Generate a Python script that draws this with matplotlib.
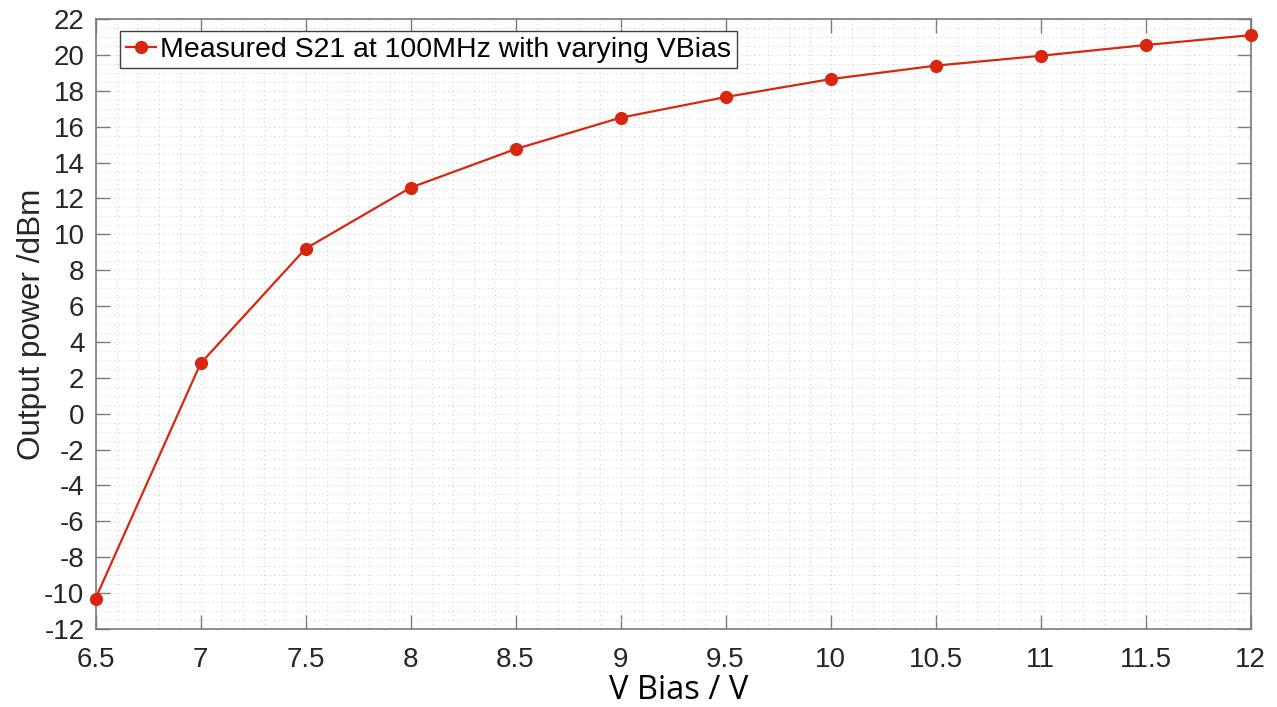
import matplotlib
matplotlib.use("Agg")
import matplotlib.pyplot as plt
from matplotlib.ticker import MultipleLocator

# Measured output power versus bias voltage
v_bias = [6.5, 7.0, 7.5, 8.0, 8.5, 9.0, 9.5, 10.0, 10.5, 11.0, 11.5, 12.0]
p_out = [-10.3, 2.8, 9.2, 12.6, 14.75, 16.5, 17.65, 18.65, 19.4, 19.95, 20.55, 21.1]
x_ticks = [6.5, 7, 7.5, 8, 8.5, 9, 9.5, 10, 10.5, 11, 11.5, 12]
x_tick_labels = ["6.5", "7", "7.5", "8", "8.5", "9", "9.5", "10", "10.5", "11", "11.5", "12"]
y_ticks = list(range(-12, 23, 2))
y_tick_labels = [str(v) for v in y_ticks]

plt.rcParams["font.family"] = ["Liberation Sans", "DejaVu Sans"]
plt.rcParams["axes.unicode_minus"] = False
text_color = "#262626"
axis_color = "#7a7a7a"

fig = plt.figure(figsize=(12.77, 7.07), dpi=100)
ax = fig.add_axes([0.0748, 0.1103, 0.9045, 0.8628])

ax.plot(v_bias, p_out, color="#D92611", linewidth=1.6, marker="o",
        markersize=8.5, label="Measured S21 at 100MHz with varying VBias",
        clip_on=False, zorder=3)

ax.set_xlim(6.5, 12)
ax.set_ylim(-12, 22)
ax.set_xticks(x_ticks)
ax.set_xticklabels(x_tick_labels)
ax.set_yticks(y_ticks)
ax.set_yticklabels(y_tick_labels)
ax.xaxis.set_minor_locator(MultipleLocator(0.1))
ax.yaxis.set_minor_locator(MultipleLocator(0.5))

ax.grid(which="both", linestyle=(0, (1, 3)), color="#d2d2d2", linewidth=0.8)
ax.set_axisbelow(True)

ax.tick_params(which="major", direction="in", length=10, width=1,
               color=axis_color, top=True, right=True,
               labelsize=20, labelcolor=text_color)
ax.tick_params(axis="y", which="major", pad=8)
ax.tick_params(axis="x", which="major", pad=13)
ax.tick_params(which="minor", length=0, top=True, right=True)
for side in ax.spines.values():
    side.set_color(axis_color)
    side.set_linewidth(1.2)

ax.set_xlabel("V Bias / V", fontsize=23.5, color="black",
              family=["Open Sans", "DejaVu Sans"])
ax.xaxis.set_label_coords(0.5048, -0.073)
ax.set_ylabel("Output power /dBm", fontsize=22.7, color=text_color)
ax.yaxis.set_label_coords(-0.042, 0.5)

leg = ax.legend(loc="upper left", bbox_to_anchor=(0.0212, 0.9803),
                borderaxespad=0, fontsize=20.5, fancybox=False,
                framealpha=1, edgecolor="#404040", handlelength=1.05,
                handletextpad=0.15, borderpad=0.2)
leg.get_frame().set_linewidth(1.0)
for t in leg.get_texts():
    t.set_color("black")

fig.savefig("out.png", dpi=100)
